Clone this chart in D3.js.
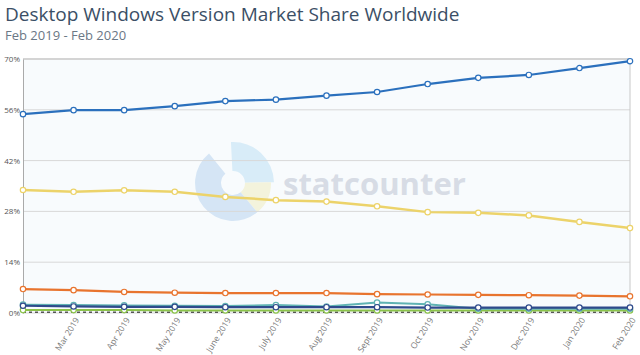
<!DOCTYPE html>
<html>
<head>
<meta charset="utf-8">
<script src="https://cdn.jsdelivr.net/npm/d3@7"></script>
<style>
  body { margin: 0; background: #fff; }
  svg { display: block; font-family: 'Open Sans', sans-serif; }
</style>
</head>
<body>
<div id="chart"></div>
<script>
let months = ['Feb 2019', 'Mar 2019', 'Apr 2019', 'May 2019', 'June 2019', 'July 2019', 'Aug 2019',
    'Sept 2019', 'Oct 2019', 'Nov 2019', 'Dec 2019', 'Jan 2020', 'Feb 2020'];

let win10 = [54.8, 55.9, 55.9, 57.0, 58.4, 58.8, 59.9, 60.9, 63.1, 64.8, 65.6, 67.5, 69.4];
let win7 = [33.9, 33.4, 33.8, 33.4, 32.0, 31.1, 30.7, 29.4, 27.8, 27.6, 26.9, 25.1, 23.4];
let win81 = [6.6, 6.3, 5.8, 5.6, 5.5, 5.5, 5.5, 5.2, 5.1, 5.0, 4.9, 4.8, 4.6];
let winXP = [2.0, 1.8, 1.7, 1.7, 1.6, 1.6, 1.6, 1.6, 1.5, 1.5, 1.5, 1.5, 1.5];
let win8 = [2.3, 2.2, 2.1, 2.0, 1.9, 2.2, 1.8, 2.9, 2.4, 1.2, 1.2, 1.2, 1.2];
let vista = [0.8, 0.8, 0.8, 0.7, 0.7, 0.7, 0.7, 0.7, 0.7, 0.7, 0.7, 0.7, 0.7];
let other = [0.2, 0.2, 0.2, 0.2, 0.2, 0.2, 0.2, 0.2, 0.2, 0.2, 0.2, 0.2, 0.2];

let yTicks = [0, 14, 28, 42, 56, 70];

let series = [
    {values: other, color: '#555', dash: '3,3', width: 1.5, dots: false},
    {values: vista, color: '#8bc34a', width: 2, dots: true},
    {values: win8, color: '#5fb3b3', width: 2, dots: true},
    {values: winXP, color: '#2e4a8b', width: 2.2, dots: true},
    {values: win81, color: '#e8742e', width: 2.2, dots: true},
    {values: win7, color: '#ecd36a', width: 2.5, dots: true},
    {values: win10, color: '#2b70bd', width: 2.2, dots: true}
];

let W = 640, H = 355;
let margin = {top: 59, right: 10, bottom: 42, left: 23};
let width = W - margin.left - margin.right;
let height = H - margin.top - margin.bottom;

let svg = d3.select('#chart').append('svg')
    .attr('width', W)
    .attr('height', H);

// title
svg.append('text')
    .attr('x', 5).attr('y', 21)
    .attr('font-size', 19)
    .attr('fill', '#3b4f66')
    .text('Desktop Windows Version Market Share Worldwide');
svg.append('text')
    .attr('x', 5).attr('y', 40)
    .attr('font-size', 13)
    .attr('fill', '#6b7785')
    .text('Feb 2019 - Feb 2020');

let g = svg.append('g')
    .attr('transform', `translate(${margin.left}, ${margin.top})`);

let x = d3.scalePoint()
    .domain(months)
    .range([0, width]);

let y = d3.scaleLinear()
    .domain([0, 70])
    .range([height, 0]);

g.append('rect')
    .attr('width', width).attr('height', height)
    .attr('fill', '#f8fbfd');

// watermark
let logo = g.append('g').attr('transform', 'translate(210, 124)');
let arc = d3.arc();
logo.append('path')
    .attr('d', arc({innerRadius: 12, outerRadius: 41, startAngle: -0.05, endAngle: 1.55}))
    .attr('fill', '#d8ecf8');
logo.append('path')
    .attr('d', arc({innerRadius: 12, outerRadius: 38, startAngle: 1.55, endAngle: 2.45}))
    .attr('fill', '#f3f3dc');
logo.append('path')
    .attr('d', arc({innerRadius: 12, outerRadius: 38, startAngle: 2.45, endAngle: 5.6}))
    .attr('fill', '#d5e5f5');
g.append('text')
    .attr('x', 260).attr('y', 136)
    .attr('font-size', 31)
    .attr('font-weight', 'bold')
    .attr('fill', '#d7dce5')
    .text('statcounter');

// grid
g.selectAll('.grid')
    .data(yTicks)
    .enter()
    .append('line')
        .attr('x1', 0).attr('x2', width)
        .attr('y1', d => y(d)).attr('y2', d => y(d))
        .attr('stroke', d => d == 70 ? '#d4d4d4' : '#d8d8d8')
        .attr('stroke-width', d => d == 70 ? 2 : 1);

g.append('line')
    .attr('x1', width).attr('x2', width)
    .attr('y1', 0).attr('y2', height)
    .attr('stroke', '#c8c8c8');

// y axis
let yAxis = g.append('g')
    .call(d3.axisLeft(y).tickValues(yTicks).tickFormat(d => d + '%').tickSize(0).tickPadding(3));
yAxis.select('.domain').attr('stroke', '#aaa');
yAxis.selectAll('text')
    .attr('font-size', 8)
    .attr('fill', '#555')
    .attr('font-family', 'Open Sans, sans-serif');

// x axis
let xAxis = g.append('g')
    .attr('transform', `translate(0, ${height})`)
    .call(d3.axisBottom(x).tickSize(0).tickPadding(6));
xAxis.select('.domain').remove();
xAxis.selectAll('text')
    .attr('font-size', 8.5)
    .attr('fill', '#7a7a7a')
    .attr('font-family', 'Open Sans, sans-serif')
    .attr('transform', 'translate(-2,2)rotate(-58)')
    .style('text-anchor', 'end')
    .attr('dy', '0.35em');
xAxis.selectAll('.tick').filter((d, i) => i == 0).select('text').remove();

// lines
let line = d3.line()
    .x((d, i) => x(months[i]))
    .y(d => y(d));

series.forEach(s => {
    g.append('path')
        .datum(s.values)
        .attr('d', line)
        .attr('fill', 'none')
        .attr('stroke', s.color)
        .attr('stroke-width', s.width)
        .attr('stroke-dasharray', s.dash || null);
    if (s.dots) {
        g.selectAll(null)
            .data(s.values)
            .enter()
            .append('circle')
                .attr('cx', (d, i) => x(months[i]))
                .attr('cy', d => y(d))
                .attr('r', 2.7)
                .attr('fill', '#fff')
                .attr('stroke', s.color)
                .attr('stroke-width', 1.2);
    }
});
</script>
</body>
</html>
